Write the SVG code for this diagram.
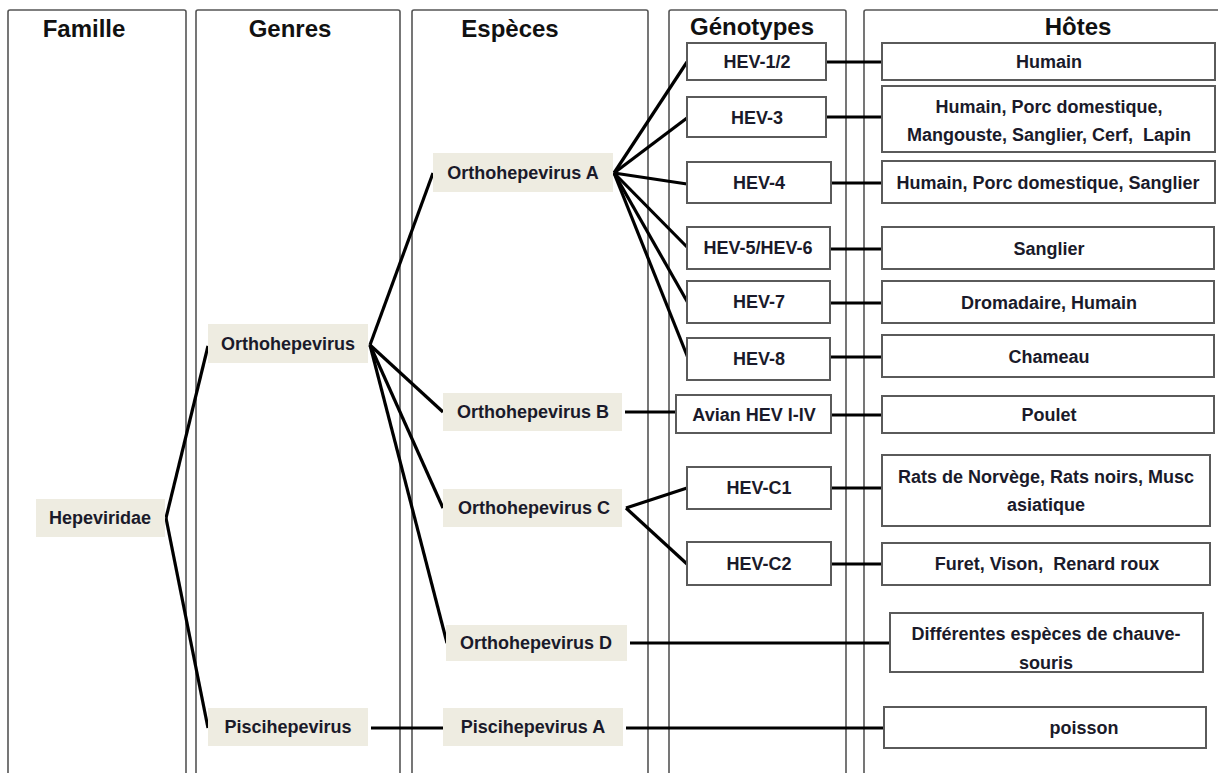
<svg xmlns="http://www.w3.org/2000/svg" width="1218" height="773" viewBox="0 0 1218 773">
<style>
.col{fill:#fff;stroke:#555;stroke-width:1.6}
.hd{font-family:"Liberation Sans",Arial,sans-serif;font-weight:bold;font-size:24px;fill:#111;text-anchor:middle}
.tx{font-family:"Liberation Sans",Arial,sans-serif;font-weight:bold;font-size:18px;fill:#1a1a2a;text-anchor:middle}
.pre{white-space:pre}
.tan{fill:#EEECE1;stroke:none}
.box{fill:#fff;stroke:#5a5a5a;stroke-width:2}
.cn line{stroke:#000;stroke-width:3.2;stroke-linecap:butt}
</style>
<rect width="1218" height="773" fill="#fff"/>
<g id="columns">
<rect class="col" x="8" y="10" width="178" height="790" rx="2"/>
<rect class="col" x="196" y="10" width="204" height="790" rx="2"/>
<rect class="col" x="412" y="10" width="236" height="790" rx="2"/>
<rect class="col" x="669" y="10" width="177" height="790" rx="2"/>
<rect class="col" x="864" y="10" width="380" height="790" rx="2"/>
<text class="hd" x="84" y="37">Famille</text>
<text class="hd" x="290" y="37">Genres</text>
<text class="hd" x="510" y="37">Espèces</text>
<text class="hd" x="752" y="35">Génotypes</text>
<text class="hd" x="1078" y="35">Hôtes</text>
</g>
<g id="connectors" class="cn">
<line x1="166" y1="518" x2="208" y2="346"/>
<line x1="166" y1="518" x2="208" y2="728"/>
<line x1="370" y1="345" x2="433" y2="173"/>
<line x1="370" y1="345" x2="443" y2="412"/>
<line x1="370" y1="345" x2="443" y2="508"/>
<line x1="370" y1="345" x2="447" y2="643"/>
<line x1="371" y1="728" x2="443" y2="728"/>
<line x1="614" y1="173" x2="687" y2="62"/>
<line x1="614" y1="173" x2="687" y2="118"/>
<line x1="614" y1="173" x2="687" y2="184"/>
<line x1="614" y1="173" x2="688" y2="248"/>
<line x1="614" y1="173" x2="688" y2="303"/>
<line x1="614" y1="173" x2="688" y2="358"/>
<line x1="625" y1="412" x2="676" y2="412"/>
<line x1="626" y1="508" x2="687" y2="488"/>
<line x1="626" y1="508" x2="687" y2="564"/>
<line x1="630" y1="643" x2="890" y2="643"/>
<line x1="626" y1="728" x2="884" y2="728"/>
<line x1="826" y1="62" x2="882" y2="62"/>
<line x1="826" y1="117" x2="882" y2="117"/>
<line x1="831" y1="183" x2="882" y2="183"/>
<line x1="830" y1="249" x2="882" y2="249"/>
<line x1="830" y1="303" x2="882" y2="303"/>
<line x1="830" y1="357" x2="882" y2="357"/>
<line x1="831" y1="415" x2="882" y2="415"/>
<line x1="831" y1="488" x2="882" y2="488"/>
<line x1="831" y1="564" x2="882" y2="564"/>
</g>
<g id="n-hepeviridae"><rect class="tan" x="36" y="499" width="129" height="38"/><text class="tx" x="100" y="524">Hepeviridae</text></g>
<g id="n-orthohepevirus"><rect class="tan" x="208" y="324" width="160" height="39"/><text class="tx" x="288" y="350">Orthohepevirus</text></g>
<g id="n-piscihepevirus"><rect class="tan" x="208" y="708" width="160" height="38"/><text class="tx" x="288" y="733">Piscihepevirus</text></g>
<g id="n-ortho-a"><rect class="tan" x="433" y="153" width="180" height="39"/><text class="tx" x="523" y="179">Orthohepevirus A</text></g>
<g id="n-ortho-b"><rect class="tan" x="443" y="393" width="179" height="38"/><text class="tx" x="533" y="418">Orthohepevirus B</text></g>
<g id="n-ortho-c"><rect class="tan" x="443" y="489" width="179" height="38"/><text class="tx" x="534" y="514">Orthohepevirus C</text></g>
<g id="n-ortho-d"><rect class="tan" x="446" y="625" width="181" height="36"/><text class="tx" x="536" y="649">Orthohepevirus D</text></g>
<g id="n-pisci-a"><rect class="tan" x="443" y="708" width="180" height="38"/><text class="tx" x="533" y="733">Piscihepevirus A</text></g>
<g id="g-hev12"><rect class="box" x="687" y="43" width="139" height="37"/><text class="tx" x="757" y="68">HEV-1/2</text></g>
<g id="g-hev3"><rect class="box" x="687" y="97" width="139" height="40"/><text class="tx" x="757" y="124">HEV-3</text></g>
<g id="g-hev4"><rect class="box" x="687" y="162" width="144" height="41"/><text class="tx" x="759" y="189">HEV-4</text></g>
<g id="g-hev56"><rect class="box" x="687" y="227" width="143" height="42"/><text class="tx" x="758" y="254">HEV-5/HEV-6</text></g>
<g id="g-hev7"><rect class="box" x="687" y="281" width="143" height="42"/><text class="tx" x="759" y="308">HEV-7</text></g>
<g id="g-hev8"><rect class="box" x="687" y="338" width="143" height="42"/><text class="tx" x="759" y="365">HEV-8</text></g>
<g id="g-avian"><rect class="box" x="676" y="395" width="155" height="38"/><text class="tx" x="754" y="421">Avian HEV I-IV</text></g>
<g id="g-hevc1"><rect class="box" x="687" y="467" width="144" height="42"/><text class="tx" x="759" y="494">HEV-C1</text></g>
<g id="g-hevc2"><rect class="box" x="687" y="542" width="144" height="43"/><text class="tx" x="759" y="570">HEV-C2</text></g>
<g id="h-humain"><rect class="box" x="882" y="43" width="333" height="37"/><text class="tx" x="1049" y="68">Humain</text></g>
<g id="h-hev3"><rect class="box" x="882" y="86" width="333" height="66"/><text class="tx" x="1049" y="113">Humain, Porc domestique,</text><text class="tx pre" x="1049" y="141">Mangouste, Sanglier, Cerf,  Lapin</text></g>
<g id="h-hev4"><rect class="box" x="882" y="161" width="333" height="42"/><text class="tx" x="1048" y="189">Humain, Porc domestique, Sanglier</text></g>
<g id="h-sanglier"><rect class="box" x="882" y="227" width="332" height="42"/><text class="tx" x="1049" y="255">Sanglier</text></g>
<g id="h-dromadaire"><rect class="box" x="882" y="281" width="332" height="42"/><text class="tx" x="1049" y="309">Dromadaire, Humain</text></g>
<g id="h-chameau"><rect class="box" x="882" y="335" width="332" height="42"/><text class="tx" x="1049" y="363">Chameau</text></g>
<g id="h-poulet"><rect class="box" x="882" y="396" width="332" height="37"/><text class="tx" x="1049" y="421">Poulet</text></g>
<g id="h-rats"><rect class="box" x="882" y="455" width="328" height="71"/><text class="tx" x="1046" y="483">Rats de Norvège, Rats noirs, Musc</text><text class="tx" x="1046" y="511">asiatique</text></g>
<g id="h-furet"><rect class="box" x="882" y="543" width="328" height="42"/><text class="tx pre" x="1047" y="570">Furet, Vison,  Renard roux</text></g>
<g id="h-chauvesouris"><rect class="box" x="890" y="613" width="313" height="59"/><text class="tx" x="1046" y="640">Différentes espèces de chauve-</text><text class="tx" x="1046" y="669">souris</text></g>
<g id="h-poisson"><rect class="box" x="884" y="707" width="322" height="41"/><text class="tx" x="1084" y="734">poisson</text></g>
</svg>
